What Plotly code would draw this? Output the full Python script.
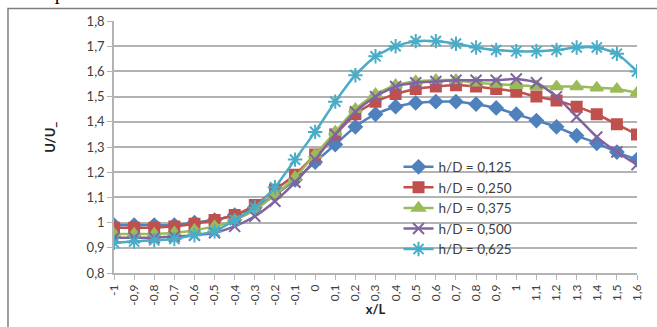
import plotly.graph_objects as go

x_vals = [-1.0, -0.9, -0.8, -0.7, -0.6, -0.5, -0.4, -0.3, -0.2, -0.1, 0.0, 0.1, 0.2, 0.3,
          0.4, 0.5, 0.6, 0.7, 0.8, 0.9, 1.0, 1.1, 1.2, 1.3, 1.4, 1.5, 1.6]
x_labels = ["-1", "-0,9", "-0,8", "-0,7", "-0,6", "-0,5", "-0,4", "-0,3", "-0,2", "-0,1", "0",
            "0,1", "0,2", "0,3", "0,4", "0,5", "0,6", "0,7", "0,8", "0,9", "1",
            "1,1", "1,2", "1,3", "1,4", "1,5", "1,6"]
y_ticks = [0.8, 0.9, 1.0, 1.1, 1.2, 1.3, 1.4, 1.5, 1.6, 1.7, 1.8]
y_labels = ["0,8", "0,9", "1", "1,1", "1,2", "1,3", "1,4", "1,5", "1,6", "1,7", "1,8"]

hd_0125 = [0.99, 0.99, 0.99, 0.99, 1.00, 1.01, 1.03, 1.06, 1.11, 1.17, 1.24, 1.31, 1.38, 1.43,
           1.46, 1.475, 1.48, 1.48, 1.47, 1.455, 1.43, 1.405, 1.38, 1.345, 1.315, 1.28, 1.25]
hd_0250 = [0.98, 0.98, 0.98, 0.985, 0.995, 1.01, 1.03, 1.07, 1.13, 1.19, 1.27, 1.35, 1.43, 1.48,
           1.51, 1.53, 1.54, 1.545, 1.54, 1.53, 1.52, 1.50, 1.485, 1.46, 1.43, 1.39, 1.35]
hd_0375 = [0.955, 0.955, 0.955, 0.96, 0.97, 0.985, 1.01, 1.05, 1.11, 1.18, 1.27, 1.36, 1.45, 1.51,
           1.545, 1.56, 1.565, 1.565, 1.555, 1.55, 1.545, 1.54, 1.54, 1.54, 1.535, 1.53, 1.515]
hd_0500 = [0.94, 0.94, 0.94, 0.945, 0.95, 0.96, 0.985, 1.025, 1.085, 1.16, 1.25, 1.35, 1.44, 1.50,
           1.54, 1.555, 1.56, 1.565, 1.565, 1.565, 1.57, 1.555, 1.50, 1.42, 1.34, 1.28, 1.23]
hd_0625 = [0.92, 0.925, 0.93, 0.935, 0.95, 0.965, 1.01, 1.06, 1.14, 1.25, 1.36, 1.48, 1.585, 1.66,
           1.70, 1.72, 1.72, 1.71, 1.695, 1.685, 1.68, 1.68, 1.685, 1.695, 1.695, 1.67, 1.60]

series = [
    ("h/D = 0,125", hd_0125, "#4F81BD", "diamond", 10),
    ("h/D = 0,250", hd_0250, "#C0504D", "square", 10),
    ("h/D = 0,375", hd_0375, "#9BBB59", "triangle-up", 11),
    ("h/D = 0,500", hd_0500, "#8064A2", "x-thin-open", 11),
    ("h/D = 0,625", hd_0625, "#4BACC6", "asterisk-open", 12),
]

fig = go.Figure()
for name, ys, color, sym, size in series:
    fig.add_trace(go.Scatter(
        x=x_vals, y=ys, name=name, mode="lines+markers",
        line=dict(color=color, width=2.5, shape="spline", smoothing=0.6),
        marker=dict(symbol=sym, size=size, color=color,
                    line=dict(color=color, width=2)),
    ))

grid_col = "#B3B3B3"
fig.update_layout(
    width=657, height=327,
    margin=dict(l=114, r=20, t=21, b=45),
    paper_bgcolor="white", plot_bgcolor="white",
    font=dict(family="Lato, Liberation Sans, sans-serif", size=12, color="#404040"),
    showlegend=True,
    legend=dict(x=0.544, y=0.482, xanchor="left", yanchor="top",
                bgcolor="rgba(0,0,0,0)", font=dict(size=13.5, color="#404040"),
                tracegroupgap=0, itemwidth=30),
    xaxis=dict(range=[-1.0, 1.6], tickmode="array", tickvals=x_vals, ticktext=x_labels,
               tickangle=-90, showgrid=False, zeroline=False, showline=True,
               linecolor=grid_col, linewidth=1.5, ticks="outside", ticklen=5,
               tickcolor=grid_col, tickfont=dict(size=12, color="#404040"),
               title=dict(text="<b>x/L</b>", font=dict(size=13, color="#222222"),
                          standoff=0)),
    yaxis=dict(range=[0.8, 1.8], tickmode="array", tickvals=y_ticks, ticktext=y_labels,
               showgrid=True, gridcolor=grid_col, gridwidth=1.5, zeroline=False,
               showline=True, linecolor=grid_col, linewidth=1.5, ticks="outside",
               ticklen=5, tickcolor=grid_col, tickfont=dict(size=13, color="#404040"),
               title=None),
    annotations=[
        dict(text="<b>U/U_</b>", x=(40 - 114) / 523, y=(282 - 142) / 261,
             xref="paper", yref="paper",
             showarrow=False, textangle=-90, font=dict(size=13, color="#222222")),
        dict(text="ocepata      Noceca.", x=-0.17, y=1.06, xref="paper", yref="paper",
             xanchor="left", yanchor="bottom", showarrow=False,
             font=dict(family="Liberation Serif", size=20, color="black")),
    ],
    shapes=[
        dict(type="rect", xref="paper", yref="paper", x0=-0.2027, x1=1.05,
             y0=-0.25, y1=1.0498, line=dict(color="#7F7F7F", width=1.5),
             fillcolor="rgba(0,0,0,0)", layer="below"),
    ],
)

fig.write_html("out.html")
